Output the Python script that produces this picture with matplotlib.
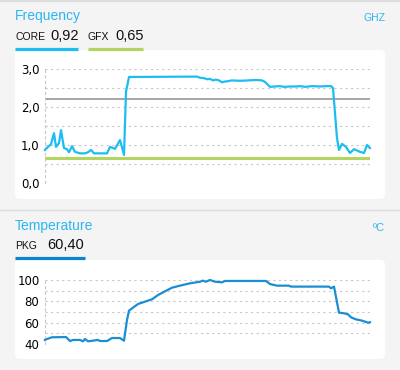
import numpy as np
import matplotlib
matplotlib.use("Agg")
import matplotlib.pyplot as plt
from matplotlib.patches import FancyBboxPatch
from matplotlib.lines import Line2D
from matplotlib.ticker import MultipleLocator, FuncFormatter

# data: time (s) and readings
core_t = [0, 3, 6, 9, 11, 14, 16, 19, 22, 24, 27, 30, 35, 40, 43, 46, 49, 62,
          65, 70, 75, 79, 81, 84, 152, 155, 159, 162, 165, 168, 171, 174, 177,
          180, 183, 187, 195, 203, 211, 217, 220, 225, 230, 235, 239, 245, 252,
          255, 260, 267, 275, 282, 286, 288, 292, 294, 297, 301, 305, 309, 315,
          319, 322, 325]
core_ghz = [0.87, 0.95, 1.02, 1.31, 0.95, 1.05, 1.39, 0.92, 0.89, 0.81, 0.97,
            0.82, 0.78, 0.78, 0.81, 0.87, 0.78, 0.78, 0.95, 0.90, 1.13, 0.74,
            2.40, 2.79, 2.80, 2.77, 2.76, 2.73, 2.74, 2.70, 2.72, 2.70, 2.65,
            2.67, 2.68, 2.70, 2.69, 2.70, 2.71, 2.70, 2.66, 2.53, 2.54, 2.55,
            2.53, 2.54, 2.54, 2.55, 2.53, 2.55, 2.54, 2.55, 2.55, 2.50, 1.18,
            0.87, 1.03, 0.95, 0.79, 0.89, 0.82, 0.79, 1.00, 0.92]
gfx_ghz = 0.65
max_ghz = 2.2

pkg_t = [0, 2, 7, 21, 25, 28, 35, 38, 40, 43, 53, 55, 62, 67, 75, 79, 82, 84,
         93, 100, 107, 113, 118, 127, 135, 145, 155, 158, 161, 165, 170, 177,
         180, 221, 225, 232, 244, 246, 284, 286, 289, 294, 299, 303, 306, 311,
         317, 323, 325]
pkg_c = [43.8, 44.7, 46.3, 46.5, 42.8, 43.8, 43.8, 42.5, 44.7, 42.5, 43.8,
         42.8, 42.8, 45.6, 45.6, 43.1, 62.5, 71.3, 77.5, 79.7, 81.9, 85.9, 88.4,
         92.8, 94.7, 96.9, 98.4, 99.4, 98.4, 100, 98.4, 97.8, 99.1, 99.1, 96.2,
         94.7, 94.7, 93.8, 93.8, 92.2, 93.8, 69.4, 68.8, 67.8, 65.0, 63.1, 61.9,
         60.0, 60.4]

W, H = 400, 370
BG = "#f4f4f4"
TITLE = "#2db5f2"
CORE = "#1cbdf0"
GFX = "#b3d461"
TEMP = "#1a8ed3"
GRID = "#c8c8c8"
FONT = "Liberation Sans"

fig = plt.figure(figsize=(W / 100, H / 100), dpi=100, facecolor=BG)


def fx(px):
    return px / W


def fy(py):
    return 1 - py / H


# separators
fig.add_artist(Line2D([0, 1], [fy(1), fy(1)], color="#dcdcdc", lw=1.5))
fig.add_artist(Line2D([0, 1], [fy(210), fy(210)], color="#dcdcdc", lw=1))

# white cards
for top, bot in [(50, 199), (260, 359)]:
    fig.add_artist(FancyBboxPatch((fx(15), fy(bot)), fx(370), (bot - top) / H,
                                  boxstyle="round,pad=0,rounding_size=0.012",
                                  fc="white", ec="none", zorder=0))

comma = FuncFormatter(lambda v, p: ("%.1f" % v).replace(".", ","))


def style(ax):
    ax.set_facecolor("none")
    for s in ["top", "right", "bottom"]:
        ax.spines[s].set_visible(False)
    ax.spines["left"].set_color(GRID)
    ax.spines["left"].set_linestyle((0, (2, 3)))
    ax.spines["left"].set_linewidth(0.8)
    ax.tick_params(length=0, labelsize=8.5, pad=4)
    ax.set_xticks([])
    ax.grid(axis="y", which="both", color=GRID, ls=(0, (2, 3)), lw=0.8)
    ax.set_xlim(0, 325)
    for lab in ax.get_yticklabels():
        lab.set_family("DejaVu Sans")


# frequency chart
ax1 = fig.add_axes([fx(45), fy(183), fx(325), 114 / H])
ax1.set_ylim(0, 3.0)
ax1.yaxis.set_major_locator(MultipleLocator(1.0))
ax1.yaxis.set_minor_locator(MultipleLocator(0.5))
ax1.yaxis.set_major_formatter(comma)
ax1.tick_params(which="minor", length=0)
style(ax1)
ax1.axhline(max_ghz, color="#8e8e8e", lw=1.1, zorder=2)
ax1.axhline(gfx_ghz, color=GFX, lw=2.2, zorder=2)
ax1.plot(core_t, core_ghz, color=CORE, lw=1.6, zorder=3, clip_on=False)

# temperature chart
ax2 = fig.add_axes([fx(45), fy(344), fx(325), 64 / H])
ax2.set_ylim(40, 100)
ax2.yaxis.set_major_locator(MultipleLocator(20))
ax2.yaxis.set_minor_locator(MultipleLocator(10))
ax2.tick_params(which="minor", length=0)
style(ax2)
ax2.plot(pkg_t, pkg_c, color=TEMP, lw=1.6, zorder=3, clip_on=False)

# headers
fig.text(fx(15), fy(20), "Frequency", color=TITLE, fontsize=10, family=FONT)
fig.text(fx(385), fy(21), "GHZ", color=TITLE, fontsize=7.5, family=FONT, ha="right")
fig.text(fx(15), fy(40), "CORE", color="#111111", fontsize=7.5, family=FONT)
fig.text(fx(50), fy(40), ("%.2f" % core_ghz[-1]).replace(".", ","),
         color="#111111", fontsize=10.5, family=FONT)
fig.text(fx(88), fy(40), "GFX", color="#111111", fontsize=7.5, family=FONT)
fig.text(fx(115), fy(40), ("%.2f" % gfx_ghz).replace(".", ","),
         color="#111111", fontsize=10.5, family=FONT)
fig.add_artist(Line2D([fx(15), fx(78)], [fy(48.5), fy(48.5)], color=CORE, lw=2.3,
                      solid_capstyle="butt"))
fig.add_artist(Line2D([fx(88), fx(143)], [fy(48.5), fy(48.5)], color=GFX, lw=2.3,
                      solid_capstyle="butt"))

fig.text(fx(15), fy(230), "Temperature", color=TITLE, fontsize=10, family=FONT)
fig.text(fx(385), fy(231), "ºC", color=TITLE, fontsize=8, family=FONT, ha="right")
fig.text(fx(15), fy(249), "PKG", color="#111111", fontsize=7.5, family=FONT)
fig.text(fx(47), fy(249), ("%.2f" % pkg_c[-1]).replace(".", ","),
         color="#111111", fontsize=10.5, family=FONT)
fig.add_artist(Line2D([fx(15), fx(85)], [fy(258), fy(258)], color="#0b86cc", lw=2.3,
                      solid_capstyle="butt"))

fig.savefig("out.png", dpi=100, facecolor=BG)
